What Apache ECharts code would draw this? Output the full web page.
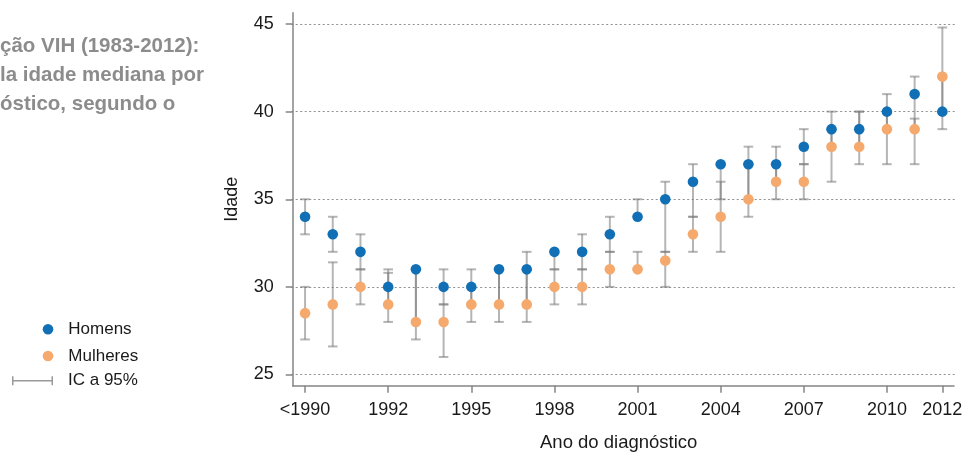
<!DOCTYPE html>
<html><head><meta charset="utf-8">
<script src="https://cdn.jsdelivr.net/npm/echarts@6/dist/echarts.min.js"></script>
<style>html,body{margin:0;padding:0;background:#fff}#c{width:963px;height:453px}</style>
</head><body><div id="c"></div>
<script>
// ---- data ----
const categories = ['<1990','1990','1991','1992','1993','1994','1995','1996','1997','1998','1999','2000','2001','2002','2003','2004','2005','2006','2007','2008','2009','2010','2011','2012'];
const tickLabels = ['<1990','1992','1995','1998','2001','2004','2007','2010','2012'];
const yTicks = [25, 30, 35, 40, 45];
const titleLines = ['ção VIH (1983-2012):', 'la idade mediana por', 'óstico, segundo o'];
const seriesNames = ['Homens', 'Mulheres', 'IC a 95%'];
const homens       = [34,33,32,30,31,30,30,31,31,32,32,33,34,35,36,37,37,37,38,39,39,40,41,40];
const homensLow    = [33,32,31,29,28,29,29,29,29,31,31,32,34,32,34,35,35,36,37,38,38,39,39,39];
const homensHigh   = [35,34,33,31,31,31,31,31,32,32,33,34,35,36,37,37,38,38,39,40,40,41,42,42];
const mulheres     = [28.5,29,30,29,28,28,29,29,29,30,30,31,31,31.5,33,34,35,36,36,38,38,39,39,42];
const mulheresLow  = [27,26.6,29,28,27,26,28,28,28,29,29,30,31,30,32,32,34,35,35,36,37,37,37,40];
const mulheresHigh = [30,31.4,31,30.8,31,29,30,31,31,31,31,32,32,32,34,36,37,37,37,39,40,40,39.6,44.8];

// ---- build ----
const ciData = [];
categories.forEach((c, i) => {
  ciData.push([i, homensLow[i], homensHigh[i]]);
  ciData.push([i, mulheresLow[i], mulheresHigh[i]]);
});
const showIdx = (i) => tickLabels.indexOf(categories[i]) >= 0;
const FONT = '"Liberation Sans", Arial, sans-serif';
const axisGray = '#858585';
const ciStroke = 'rgba(120,120,120,0.55)';

const chart = echarts.init(document.getElementById('c'), null, {renderer: 'canvas'});
chart.setOption({
  animation: false,
  backgroundColor: '#fff',
  textStyle: {fontFamily: FONT},
  grid: [
    {left: 291.2, right: 6.8, top: 24, bottom: 78.5, containLabel: false, outerBoundsMode: 'none'},
    {left: 292.7, right: 9, top: 12.7, bottom: 67.3, containLabel: false, outerBoundsMode: 'none'}
  ],
  xAxis: [
    {
      type: 'category', gridIndex: 0, data: categories, boundaryGap: true,
      offset: 11.2,
      axisLine: {show: false},
      axisTick: {show: true, alignWithLabel: true, length: 7, interval: (i) => showIdx(i),
                 lineStyle: {color: axisGray, width: 1.5}},
      axisLabel: {interval: (i) => showIdx(i), margin: 15, fontSize: 18, color: '#1a1a1a', fontFamily: FONT},
      splitLine: {show: false},
      name: 'Ano do diagnóstico', nameLocation: 'middle', nameGap: 48,
      nameTextStyle: {fontSize: 18.5, color: '#1a1a1a', fontFamily: FONT, padding: [0, 10, 0, 0]}
    },
    {
      type: 'value', gridIndex: 1, min: 0, max: 1,
      axisLine: {show: true, onZero: false, lineStyle: {color: axisGray, width: 1.5}},
      axisTick: {show: false}, axisLabel: {show: false}, splitLine: {show: false}
    }
  ],
  yAxis: [
    {
      type: 'value', gridIndex: 0, min: yTicks[0], max: yTicks[yTicks.length - 1], interval: 5,
      offset: -1.5,
      axisLine: {show: false},
      axisTick: {show: true, length: 7, lineStyle: {color: axisGray, width: 1.5}},
      axisLabel: {margin: 19, fontSize: 18, color: '#1a1a1a', fontFamily: FONT},
      splitLine: {show: true, lineStyle: {color: '#909090', width: 1, type: [2, 2.5]}},
      name: 'Idade', nameLocation: 'middle', nameGap: 52, nameRotate: 90,
      nameTextStyle: {fontSize: 18, color: '#1a1a1a', fontFamily: FONT}
    },
    {
      type: 'value', gridIndex: 1, min: 0, max: 1,
      axisLine: {show: true, onZero: false, lineStyle: {color: axisGray, width: 1.5}},
      axisTick: {show: false}, axisLabel: {show: false}, splitLine: {show: false}
    }
  ],
  legend: [
    {
      data: [seriesNames[0], seriesNames[1]], orient: 'vertical', left: 42.7, top: 320.3,
      padding: 0, itemWidth: 10.6, itemHeight: 10.6, itemGap: 8.7, icon: 'circle',
      selectedMode: false,
      textStyle: {fontSize: 17, color: '#1a1a1a', fontFamily: FONT, lineHeight: 18, padding: [0, 0, 0, 10]}
    },
    {
      data: [{name: seriesNames[2], icon: 'path://M0,0h1.5v9h-1.5z M0,3.8h41v1.5h-41z M39.5,0h1.5v9h-1.5z',
              itemStyle: {color: '#9a9a9a'}}],
      left: 12, top: 371.7, padding: 0, itemWidth: 41, itemHeight: 9, selectedMode: false,
      textStyle: {fontSize: 17, color: '#1a1a1a', fontFamily: FONT, lineHeight: 18, padding: [0, 0, 0, 10]}
    }
  ],
  graphic: titleLines.map((t, i) => ({
    type: 'text', x: 0, y: 46 + i * 29,
    style: {text: t, font: 'bold 20.5px ' + FONT, fill: '#8c8c8c', verticalAlign: 'middle', align: 'left'}
  })),
  series: [
    {
      name: seriesNames[2], type: 'custom', xAxisIndex: 0, yAxisIndex: 0,
      data: ciData, encode: {x: 0, y: [1, 2]}, z: 2,
      itemStyle: {color: '#9a9a9a'},
      renderItem: (params, api) => {
        const x = api.value(0);
        const p1 = api.coord([x, api.value(1)]);
        const p2 = api.coord([x, api.value(2)]);
        const w = 4.8;
        const st = {stroke: ciStroke, lineWidth: 2, fill: null};
        return {type: 'group', children: [
          {type: 'line', shape: {x1: p1[0], y1: p1[1], x2: p2[0], y2: p2[1]}, style: st},
          {type: 'line', shape: {x1: p1[0] - w, y1: p1[1], x2: p1[0] + w, y2: p1[1]}, style: st},
          {type: 'line', shape: {x1: p2[0] - w, y1: p2[1], x2: p2[0] + w, y2: p2[1]}, style: st}
        ]};
      }
    },
    {
      name: seriesNames[0], type: 'scatter', xAxisIndex: 0, yAxisIndex: 0, data: homens,
      symbol: 'circle', symbolSize: 10.6, z: 5, itemStyle: {color: '#1170b5', opacity: 1}
    },
    {
      name: seriesNames[1], type: 'scatter', xAxisIndex: 0, yAxisIndex: 0, data: mulheres,
      symbol: 'circle', symbolSize: 10.6, z: 4, itemStyle: {color: '#f6a96c', opacity: 1}
    }
  ]
});
</script></body></html>
